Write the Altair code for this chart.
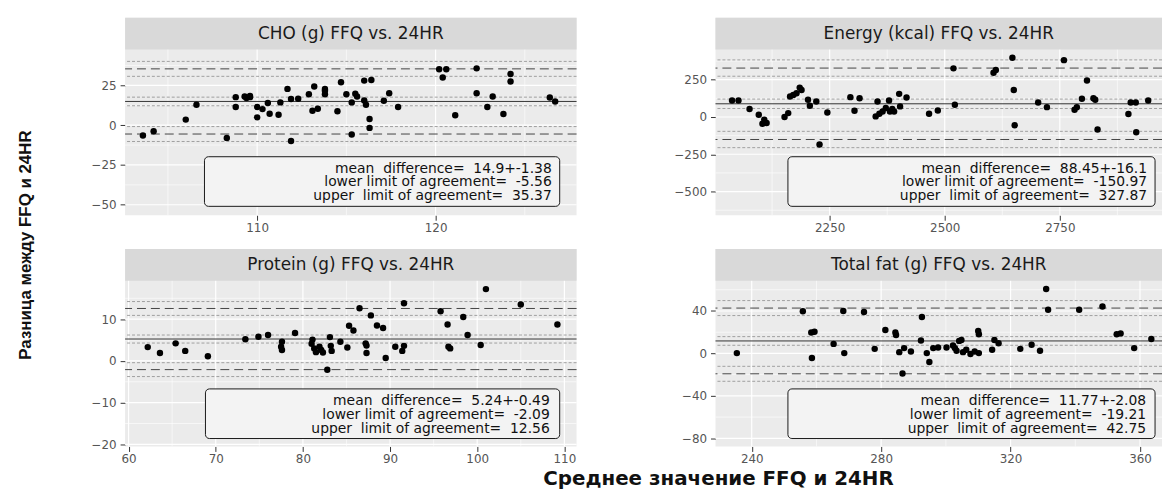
import altair as alt
import pandas as pd

# ---------------- data ----------------
# CHO (g)
cho_avg = [103.6, 104.2, 106.0, 106.6, 108.3, 108.8, 108.8, 109.3, 109.6, 109.6, 109.4, 110.0, 110.0,
           110.3, 110.6, 110.7, 111.2, 111.3, 111.7, 111.9, 112.3, 111.9, 112.9, 113.1, 113.4, 113.2,
           113.8, 113.8, 113.8, 114.5, 114.7, 115.0, 115.3, 115.5, 115.6, 115.3, 116.0, 116.4, 116.0,
           116.1, 116.3, 116.3, 117.1, 117.4, 117.9, 120.2, 120.6, 120.4, 121.1, 122.3, 122.3, 122.9,
           123.2, 123.8, 124.2, 124.2, 126.4, 126.7]
cho_diff = [-6.5, -3.8, 3.5, 12.8, -8.0, 11.4, 17.6, 18.0, 18.4, 17.6, 17.0, 11.4, 4.9,
            10.1, 13.9, 7.2, 6.6, 14.3, 22.8, 16.4, 16.6, -10.0, 19.4, 9.1, 10.3, 24.3,
            22.8, 19.4, 21.6, 8.7, 27.0, 19.4, 14.3, 19.7, 18.0, -5.9, 28.0, 28.4, 15.5,
            12.8, 3.9, -1.7, 15.3, 20.1, 11.4, 35.1, 35.1, 29.9, 6.2, 35.7, 20.1, 11.4,
            18.0, 7.0, 32.2, 27.4, 17.4, 14.9]
cho_mean_line = [14.9]
cho_loa_lines = [-5.56, 35.37]
cho_ci_lines = [12.20, 17.60, -10.25, -0.87, 30.68, 40.06]

# Energy (kcal)
en_avg = [2038, 2052, 2076, 2096, 2108, 2113, 2104, 2152, 2160, 2164, 2178, 2185, 2189, 2171,
          2203, 2207, 2221, 2228, 2245, 2295, 2304, 2315, 2350, 2354, 2358, 2365, 2372, 2379,
          2381, 2386, 2390, 2401, 2403, 2417, 2466, 2485, 2519, 2522, 2606, 2611, 2647, 2650,
          2652, 2703, 2722, 2759, 2782, 2787, 2798, 2809, 2823, 2827, 2832, 2899, 2904, 2915,
          2916, 2942]
en_diff = [110.6, 110.6, 53, 15, -18, -40, -45, 0, 26, 137, 159, 197, 181, 148,
           115, 75, 104, -184, 30, 133, 42, 126, 4, 104, 22, 37, 60, 111,
           37, 53, 37, 155, 71, 131, 22, 44, 326, 82, 297, 315, 397, 181,
           -56, 97, 66, 381, 49, 66, 122, 244, 126, 115, -84, 20, 97, 97,
           -102, 110]
en_mean_line = [88.45]
en_loa_lines = [-150.97, 327.87]
en_ci_lines = [56.89, 120.01, -205.63, -96.31, 273.21, 382.53]

# Protein (g)
pr_avg = [62.2, 63.6, 65.4, 66.5, 69.1, 73.4, 74.9, 76.0, 77.6, 77.5, 77.6, 79.1, 81.1, 81.0,
          81.3, 81.5, 81.9, 82.1, 82.3, 82.8, 83.1, 83.2, 83.3, 84.3, 85.1, 85.3, 85.8, 86.5,
          87.2, 87.3, 87.3, 87.8, 88.5, 89.2, 89.5, 90.6, 91.4, 91.6, 91.6, 95.8, 96.6, 96.7,
          96.9, 98.4, 98.9, 100.4, 101.0, 105.0, 109.2]
pr_diff = [3.3, 1.9, 4.2, 2.4, 1.1, 5.2, 5.8, 6.2, 4.6, 3.4, 2.6, 6.7, 5.1, 4.1,
           3.0, 2.1, 3.4, 2.6, 2.0, -2.1, 5.7, 3.6, 2.4, 4.6, 3.2, 8.4, 7.3, 12.6,
           4.2, 3.7, 1.9, 10.9, 8.5, 7.9, 0.7, 3.4, 2.4, 3.6, 13.8, 11.9, 8.7, 3.4,
           3.0, 10.5, 6.2, 3.8, 17.2, 13.5, 8.7]
pr_mean_line = [5.24]
pr_loa_lines = [-2.09, 12.56]
pr_ci_lines = [4.28, 6.20, -3.75, -0.43, 10.90, 14.22]

# Total fat (g)
fat_avg = [235.4, 255.8, 258.4, 259.4, 258.6, 265.3, 268.3, 268.6, 274.7, 278.0, 281.3, 284.4,
           284.6, 285.6, 287.1, 289.2, 286.6, 292.3, 292.6, 294.1, 294.9, 296.1, 297.6, 300.2,
           302.2, 302.8, 303.3, 304.1, 304.8, 305.3, 306.3, 307.6, 308.9, 310.2, 310.0, 310.2,
           314.3, 315.0, 316.3, 323.0, 326.5, 329.1, 331.0, 331.6, 341.2, 348.4, 352.8, 354.0,
           358.2, 363.5]
fat_diff = [0.3, 39.7, 19.8, 20.4, -4.3, 9.0, 40.0, 0.3, 39.0, 4.3, 22.0, 19.8,
            17.3, 1.2, 5.0, 1.9, -18.9, 12.1, 34.4, 0.3, -8.1, 5.0, 5.6, 5.6,
            7.4, 5.0, 2.5, 11.8, 12.7, 1.2, 3.4, -0.6, 1.9, 0.3, 21.1, 18.0,
            3.4, 12.7, 9.6, 4.3, 8.1, 2.5, 60.7, 41.2, 41.2, 44.3, 18.0, 18.9,
            5.0, 13.6]
fat_mean_line = [11.77]
fat_loa_lines = [-19.21, 42.75]
fat_ci_lines = [7.69, 15.85, -26.27, -12.15, 35.69, 49.81]

# axis breaks (major labelled, minor grid only)
cho_x_major, cho_x_minor = [110, 120], [105, 115, 125]
cho_y_major, cho_y_minor = [-50, -25, 0, 25], [-37.5, -12.5, 12.5, 37.5]
en_x_major, en_x_minor = [2250, 2500, 2750], [2125, 2375, 2625, 2875]
en_y_major, en_y_minor = [-500, -250, 0, 250], [-625, -375, -125, 125, 375]
pr_x_major, pr_x_minor = [60, 70, 80, 90, 100, 110], [65, 75, 85, 95, 105]
pr_y_major, pr_y_minor = [-20, -10, 0, 10], [-15, -5, 5, 15]
fat_x_major, fat_x_minor = [240, 280, 320, 360], [260, 300, 340]
fat_y_major, fat_y_minor = [-80, -40, 0, 40], [-60, -20, 20, 60]

cho_text = ["mean\u00a0 difference=\u00a0 14.9+-1.38", "lower limit of agreement=\u00a0 -5.56",
            "upper\u00a0 limit of agreement=\u00a0 35.37"]
en_text = ["mean\u00a0 difference=\u00a0 88.45+-16.1", "lower limit of agreement=\u00a0 -150.97",
           "upper\u00a0 limit of agreement=\u00a0 327.87"]
pr_text = ["mean\u00a0 difference=\u00a0 5.24+-0.49", "lower limit of agreement=\u00a0 -2.09",
           "upper\u00a0 limit of agreement=\u00a0 12.56"]
fat_text = ["mean\u00a0 difference=\u00a0 11.77+-2.08", "lower limit of agreement=\u00a0 -19.21",
            "upper\u00a0 limit of agreement=\u00a0 42.75"]

Y_TITLE = "Разница между FFQ и 24HR"
X_TITLE = "Среднее значение FFQ и 24HR"

# ---------------- styling / layout ----------------
PH = 167      # plot height
SH = 32       # strip height
TH = SH + PH
FONT = "DejaVu Sans"


def one():
    return alt.Chart(alt.Data(values=[{}]))


def panel(title, xs, ys, xdom, ydom, xmaj, xmin, ymaj, ymin, mline, lline, cline, lines, W, box,
          extra=()):
    axis_common = dict(title=None, grid=False, domain=False, tickSize=5, tickColor="#333333",
                       labelColor="#555555", labelFont=FONT, labelFontSize=12, format="d")
    X = alt.X("x:Q", scale=alt.Scale(domain=xdom, nice=False, zero=False),
              axis=alt.Axis(values=xmaj, labelPadding=2, **axis_common))
    Y = alt.Y("y:Q", scale=alt.Scale(domain=ydom, nice=False, zero=False, range=[TH, SH]),
              axis=alt.Axis(values=ymaj, labelPadding=4, **axis_common))

    def df_x(v):
        return pd.DataFrame({"x": v})

    def df_y(v):
        return pd.DataFrame({"y": v})

    gx_min = alt.Chart(df_x(xmin)).mark_rule(color="white", strokeWidth=0.6).encode(x=X)
    gy_min = alt.Chart(df_y(ymin)).mark_rule(color="white", strokeWidth=0.6).encode(y=Y)
    gx_maj = alt.Chart(df_x(xmaj)).mark_rule(color="white", strokeWidth=1.2).encode(x=X)
    gy_maj = alt.Chart(df_y(ymaj)).mark_rule(color="white", strokeWidth=1.2).encode(y=Y)
    ci = alt.Chart(df_y(cline)).mark_rule(color="#8c8c8c", strokeWidth=0.8,
                                          strokeDash=[3, 2]).encode(y=Y)
    loa = alt.Chart(df_y(lline)).mark_rule(color="#444444", strokeWidth=1,
                                           strokeDash=[9, 5]).encode(y=Y)
    mean = alt.Chart(df_y(mline)).mark_rule(color="#333333", strokeWidth=1).encode(y=Y)
    pts = alt.Chart(pd.DataFrame({"x": xs, "y": ys})).mark_circle(
        size=42, color="black", opacity=1).encode(x=X, y=Y)

    bx0, bx1, by0, by1, tx = box
    rect = one().mark_rect(
        fill="#F3F3F3", stroke="#1a1a1a", strokeWidth=1, cornerRadius=4).encode(
        x=alt.value(bx0), x2=alt.value(bx1), y=alt.value(SH + by0), y2=alt.value(SH + by1))
    txt = one().mark_text(
        align="right", baseline="middle", font=FONT, fontSize=14, color="#111111",
        lineBreak="\n", lineHeight=14).encode(
        x=alt.value(tx), y=alt.value(SH + by0 + 12), text=alt.value("\n".join(lines)))

    strip = one().mark_rect(fill="#D9D9D9").encode(
        x=alt.value(0), x2=alt.value(W), y=alt.value(0), y2=alt.value(SH))
    stext = one().mark_text(
        font=FONT, fontSize=17, color="#1A1A1A", baseline="middle", align="center").encode(
        x=alt.value(W / 2), y=alt.value(SH / 2), text=alt.value(title))

    layers = [gx_min, gy_min, gx_maj, gy_maj, ci, loa, mean, pts, rect, txt, strip, stext]
    layers += list(extra)
    return alt.layer(*layers).properties(
        width=W, height=TH, view=alt.ViewBackground(fill="#EBEBEB", stroke=None))


WL, WR = 455, 450
COLGAP, ROWGAP = 140, 34

# global axis titles, drawn relative to the bottom-left panel
ytitle = one().mark_text(
    font="Liberation Sans", fontSize=17, fontWeight="bold", color="#111111",
    angle=270, baseline="middle", align="center").encode(
    x=alt.value(-100), y=alt.value(-4), text=alt.value(Y_TITLE))
xtitle = one().mark_text(
    font=FONT, fontSize=20, fontWeight="bold", color="#111111",
    baseline="middle", align="center").encode(
    x=alt.value(598), y=alt.value(TH + 33), text=alt.value(X_TITLE))

p1 = panel("CHO (g) FFQ vs. 24HR", cho_avg, cho_diff, [102.6, 127.9], [-56.6, 47.5],
           cho_x_major, cho_x_minor, cho_y_major, cho_y_minor,
           cho_mean_line, cho_loa_lines, cho_ci_lines, cho_text, WL, (80, 438, 108, 158, 430))
p2 = panel("Energy (kcal) FFQ vs. 24HR", en_avg, en_diff, [2002, 2972], [-659, 452],
           en_x_major, en_x_minor, en_y_major, en_y_minor,
           en_mean_line, en_loa_lines, en_ci_lines, en_text, WR, (73, 443, 108, 158, 435))
p3 = panel("Protein (g) FFQ vs. 24HR", pr_avg, pr_diff, [59.6, 111.4], [-20.5, 19.2],
           pr_x_major, pr_x_minor, pr_y_major, pr_y_minor,
           pr_mean_line, pr_loa_lines, pr_ci_lines, pr_text, WL, (81, 438, 109, 159, 428),
           extra=(ytitle, xtitle))
p4 = panel("Total fat (g) FFQ vs. 24HR", fat_avg, fat_diff, [228.8, 366.8], [-87.7, 68.5],
           fat_x_major, fat_x_minor, fat_y_major, fat_y_minor,
           fat_mean_line, fat_loa_lines, fat_ci_lines, fat_text, WR, (73, 443, 109, 159, 434))

chart = alt.concat(p1, p2, p3, p4, columns=2, bounds="flush",
                   spacing={"row": ROWGAP, "column": COLGAP}).properties(
    padding={"left": 8, "top": 7, "right": 0, "bottom": 0}
).configure_view(stroke=None).configure(background="white")

chart.save("out.html", embed_options={"renderer": "svg", "actions": False})
